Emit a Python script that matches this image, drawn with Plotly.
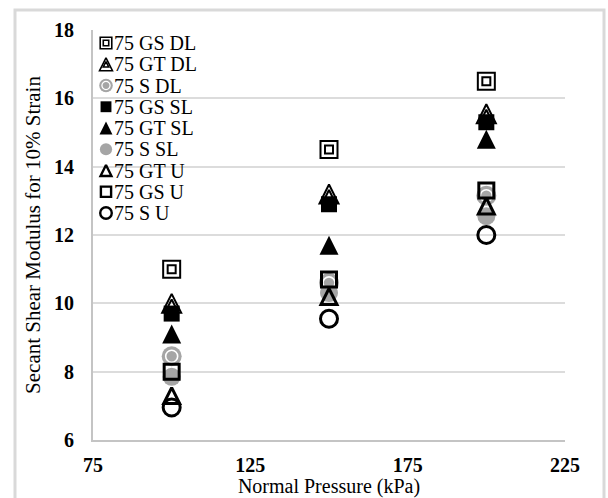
import plotly.graph_objects as go

# ---------------- data ----------------
pressure = [100, 150, 200]
series_names = ["75 GS DL", "75 GT DL", "75 S DL", "75 GS SL", "75 GT SL",
                "75 S SL", "75 GT U", "75 GS U", "75 S U"]
gs_dl = [11.0, 14.5, 16.5]
gt_dl = [10.0, 13.2, 15.55]
s_dl = [8.45, 10.6, 13.15]
gs_sl = [9.7, 12.9, 15.3]
gt_sl = [9.1, 11.7, 14.8]
s_sl = [7.85, 10.3, 12.55]
gt_u = [7.3, 10.2, 12.85]
gs_u = [8.0, 10.7, 13.3]
s_u = [6.95, 9.55, 12.0]
series_values = [gs_dl, gt_dl, s_dl, gs_sl, gt_sl, s_sl, gt_u, gs_u, s_u]
x_ticks = [75, 125, 175, 225]
y_ticks = [6, 8, 10, 12, 14, 16, 18]

# ---------------- styles ----------------
BLACK = "#000000"
GRAY = "#a5a5a5"
FONT = "Liberation Serif, Times New Roman, serif"


def tri(symbol, size, color, lcolor, lw):
    # arrow-down rotated 180deg and pushed back by half its height -> centred upward triangle
    return dict(symbol=symbol, size=size, color=color, angle=180, standoff=size / 2,
                line=dict(color=lcolor, width=lw))


def layers(name, k=1.0, w=1.0):
    if name == "75 GS DL":
        return [dict(symbol="square-open", size=17 * k, color=BLACK, line=dict(color=BLACK, width=2 * w)),
                dict(symbol="square-open", size=8 * k, color=BLACK, line=dict(color=BLACK, width=2 * w))]
    if name == "75 GT DL":
        return [tri("arrow-down-open", 19 * k, BLACK, BLACK, 2 * w),
                tri("arrow-down-open", 8 * k, BLACK, BLACK, 2 * w)]
    if name == "75 S DL":
        return [dict(symbol="circle", size=20 * k, color=GRAY, line=dict(width=0)),
                dict(symbol="circle", size=12 * k, color=GRAY, line=dict(color="white", width=1.6 * w))]
    if name == "75 GS SL":
        return [dict(symbol="square", size=16 * k, color=BLACK, line=dict(width=0))]
    if name == "75 GT SL":
        return [tri("arrow-down", 19 * k, BLACK, BLACK, 0)]
    if name == "75 S SL":
        return [dict(symbol="circle", size=18 * k, color=GRAY, line=dict(width=0))]
    if name == "75 GT U":
        return [tri("arrow-down-open", 16 * k, BLACK, BLACK, 3 * w)]
    if name == "75 GS U":
        return [dict(symbol="square-open", size=15 * k, color=BLACK, line=dict(color=BLACK, width=3 * w))]
    if name == "75 S U":
        return [dict(symbol="circle-open", size=17 * k, color=BLACK, line=dict(color=BLACK, width=3 * w))]
    return []


fig = go.Figure()

for name, vals in zip(series_names, series_values):
    for mk in layers(name):
        fig.add_trace(go.Scatter(x=pressure, y=vals, mode="markers", marker=mk,
                                 name=name, showlegend=False))

# ---------------- custom legend (pixel-offset overlay axes) ----------------
LEG_X_MARK = 13
LEG_X_TEXT = 19
LEG_Y0 = 13
LEG_DY = 21.25
annotations = []
for i, name in enumerate(series_names):
    yy = LEG_Y0 + LEG_DY * i
    for mk in layers(name, k=0.68, w=0.8):
        fig.add_trace(go.Scatter(x=[LEG_X_MARK], y=[yy], mode="markers", marker=mk,
                                 xaxis="x2", yaxis="y2", showlegend=False, hoverinfo="skip"))
    annotations.append(dict(x=LEG_X_TEXT, y=yy, xref="x2", yref="y2", text=name,
                            showarrow=False, xanchor="left", yanchor="middle",
                            font=dict(family=FONT, size=20, color=BLACK)))

fig.update_layout(
    width=608, height=498,
    margin=dict(l=93, r=43, t=30, b=58, autoexpand=False),
    paper_bgcolor="white", plot_bgcolor="white",
    showlegend=False,
    font=dict(family=FONT, color=BLACK),
    xaxis=dict(range=[75, 225], tickvals=x_ticks, showgrid=False, zeroline=False,
               automargin=False,
               showline=True, linecolor="#c4c4c4", linewidth=2, ticks="",
               tickfont=dict(family=FONT, size=20, color=BLACK, weight="bold"),
               ticklabelstandoff=6,
               title=dict(text="Normal Pressure (kPa)", standoff=4,
                          font=dict(family=FONT, size=20, color=BLACK))),
    yaxis=dict(range=[6, 18], tickvals=y_ticks, showgrid=True, gridcolor="#dcdcdc",
               automargin=False,
               gridwidth=1.6, zeroline=False, showline=True, linecolor="#c4c4c4",
               linewidth=2, ticks="",
               tickfont=dict(family=FONT, size=20, color=BLACK, weight="bold"),
               ticklabelstandoff=13,
               title=dict(text="Secant Shear Modulus for 10% Strain", standoff=8,
                          font=dict(family=FONT, size=21, color=BLACK))),
    xaxis2=dict(overlaying="x", anchor="y2", range=[0, 472], visible=False, fixedrange=True),
    yaxis2=dict(overlaying="y", anchor="x2", range=[410, 0], visible=False, fixedrange=True),
    annotations=annotations,
    shapes=[dict(type="rect", xref="paper", yref="paper",
                 x0=(15 - 93) / 472, x1=(604 - 93) / 472,
                 y0=-(62 / 410), y1=1 + 20 / 410,
                 line=dict(color="#d9d9d9", width=3), fillcolor="rgba(0,0,0,0)",
                 layer="below")],
)

fig.write_html("out.html")
